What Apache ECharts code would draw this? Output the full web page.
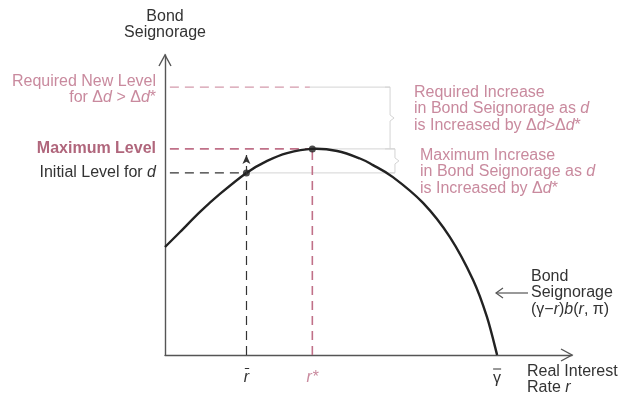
<!DOCTYPE html>
<html>
<head>
<meta charset="utf-8">
<script src="https://cdn.jsdelivr.net/npm/echarts@6/dist/echarts.min.js"></script>
<style>
  html, body { margin: 0; padding: 0; background: #fff; }
  #chart { width: 627px; height: 396px; }
</style>
</head>
<body>
<div id="chart"></div>
<script>
// curve: bond seignorage (gamma - r) b(r, pi)
const rateValues = [0, 0.37, 0.86, 1.35, 2.0, 2.51, 3.0, 3.62, 4.23, 4.79, 5.11, 5.6, 6.34, 7.0, 7.57, 7.91, 8.16]
const seignorageValues = [3.6, 4.1, 4.77, 5.37, 6.07, 6.47, 6.73, 6.87, 6.8, 6.55, 6.33, 5.93, 5.07, 3.93, 2.5, 1.27, 0]

// key points on the axes
const rBar = 2.0
const rStar = 3.62
const gammaBar = 8.16

// levels
const initialLevel = 6.07
const maxLevel = 6.87
const requiredLevel = 8.93

const pink = '#c07088'
const pinkText = '#c98a9e'
const ink = '#333'
const grey = '#d4d4d4'
const font = 'Liberation Sans, Arial, sans-serif'
const fs = 16

const chart = echarts.init(document.getElementById('chart'))

const dash = [9, 6]

const seg = (x1, y1, x2, y2, color, type, width) => ({
  type: 'line',
  data: [[x1, y1], [x2, y2]],
  symbol: 'none',
  silent: true,
  lineStyle: { color: color, type: type, width: width },
  z: 1
})

// catmull-rom through the points, drawn once with the axis scales
const renderCurve = (params, api) => {
  if (params.dataIndex !== 0) return null
  const p = rateValues.map((r, i) => api.coord([r, seignorageValues[i]]))
  let d = 'M' + p[0][0] + ' ' + p[0][1]
  for (let i = 0; i < p.length - 1; i++) {
    const p0 = p[Math.max(i - 1, 0)], p1 = p[i], p2 = p[i + 1], p3 = p[Math.min(i + 2, p.length - 1)]
    const c1x = p1[0] + (p2[0] - p0[0]) / 6, c1y = p1[1] + (p2[1] - p0[1]) / 6
    const c2x = p2[0] - (p3[0] - p1[0]) / 6, c2y = p2[1] - (p3[1] - p1[1]) / 6
    d += ' C' + c1x + ' ' + c1y + ' ' + c2x + ' ' + c2y + ' ' + p2[0] + ' ' + p2[1]
  }
  return {
    type: 'path',
    shape: { pathData: d },
    style: { stroke: '#222', lineWidth: 2.4, fill: 'none' }
  }
}

chart.setOption({
  animation: false,
  grid: { left: 165, right: 55, top: 55, bottom: 41 },
  xAxis: {
    type: 'value', min: 0, max: 10,
    axisLine: { lineStyle: { color: '#555', width: 1.4 } },
    axisTick: { show: false }, axisLabel: { show: false }, splitLine: { show: false }
  },
  yAxis: {
    type: 'value', min: 0, max: 10,
    axisLine: { show: true, lineStyle: { color: '#555', width: 1.4 } },
    axisTick: { show: false }, axisLabel: { show: false }, splitLine: { show: false }
  },
  series: [
    seg(0.12, requiredLevel, 3.56, requiredLevel, '#d49aac', dash, 1.3),
    seg(3.56, requiredLevel, 5.53, requiredLevel, grey, 'solid', 1),
    seg(0.12, maxLevel, rStar, maxLevel, pink, dash, 1.8),
    seg(rStar, maxLevel, 5.65, maxLevel, grey, 'solid', 1),
    seg(0.12, initialLevel, rBar, initialLevel, ink, dash, 1.2),
    seg(rBar, initialLevel, 5.65, initialLevel, grey, 'solid', 1),
    seg(rStar, 0, rStar, maxLevel, pink, dash, 1.6),
    {
      type: 'custom',
      data: rateValues.map((r, i) => [r, seignorageValues[i]]),
      renderItem: renderCurve,
      silent: true,
      z: 3,
      markLine: {
        silent: true,
        symbol: ['none', 'arrow'],
        symbolSize: [6, 9],
        label: { show: false },
        lineStyle: { color: ink, type: dash, width: 1.2 },
        data: [[{ coord: [rBar, 0] }, { coord: [rBar, 6.67] }]]
      }
    },
    {
      type: 'scatter',
      data: [[rBar, initialLevel], [rStar, maxLevel]],
      symbolSize: 7,
      itemStyle: { color: '#222' },
      z: 4
    }
  ]
})

const px = (x, y) => chart.convertToPixel({ gridIndex: 0 }, [x, y])
const origin = px(0, 0)
const xEnd = px(10, 0)
const yEnd = px(0, 10)

const rich = (color) => ({
  i: { fontStyle: 'italic', fill: color, fontSize: fs, fontFamily: font }
})

const text = (str, x, y, opts) => ({
  type: 'text',
  silent: true,
  style: Object.assign({
    text: str, x: x, y: y,
    fill: ink, fontSize: fs, fontFamily: font,
    textAlign: 'left', textVerticalAlign: 'top', lineHeight: 16.5,
    rich: rich((opts && opts.fill) || ink)
  }, opts || {})
})

const poly = (pts, color, width) => ({
  type: 'polyline', silent: true,
  shape: { points: pts },
  style: { stroke: color, lineWidth: width || 1.2, fill: null }
})

const brace = (x, y1, y2) => {
  const m = (y1 + y2) / 2
  return poly([[x - 5, y1], [x, y1], [x, m - 3], [x + 4, m], [x, m + 3], [x, y2], [x - 5, y2]], grey, 1)
}

const pReq = px(5.53, requiredLevel)
const pMax = px(5.65, maxLevel)
const pInit = px(5.65, initialLevel)

const tb = px(rBar, 0), ts = px(rStar, 0), tg = px(gammaBar, 0)

chart.setOption({
  graphic: [
    // axis arrow heads
    poly([[yEnd[0] - 6, yEnd[1] + 11], yEnd, [yEnd[0] + 6, yEnd[1] + 11]], '#555', 1.4),
    poly([[xEnd[0] - 11, xEnd[1] - 6], xEnd, [xEnd[0] - 11, xEnd[1] + 6]], '#555', 1.4),
    brace(pReq[0], pReq[1], pMax[1]),
    brace(pMax[0], pMax[1], pInit[1]),
    // pointer to curve
    poly([[496, 293], [528, 293]], '#555', 1.2),
    poly([[503, 288], [496, 293], [503, 298]], '#555', 1.2),

    text('Bond\nSeignorage', origin[0], 8, { textAlign: 'center' }),
    text('Required New Level\nfor Δ{i|d} > Δ{i|d}*', 156, 73, { textAlign: 'right', fill: pinkText }),
    text('Maximum Level', 156, 149, { textAlign: 'right', textVerticalAlign: 'middle', fill: '#b0667c', fontWeight: 'bold' }),
    text('Initial Level for {i|d}', 156, 173, { textAlign: 'right', textVerticalAlign: 'middle' }),
    text('Required Increase\nin Bond Seignorage as {i|d}\nis Increased by Δ{i|d}>Δ{i|d}*', 414, 84, { fill: pinkText }),
    text('Maximum Increase\nin Bond Seignorage as {i|d}\nis Increased by Δ{i|d}*', 420, 147, { fill: pinkText }),
    text('Bond\nSeignorage\n(γ−{i|r}){i|b}({i|r}, π)', 531, 268),
    text('{i|r̄}', tb[0], 369, { textAlign: 'center' }),
    text('{i|r*}', ts[0], 369, { textAlign: 'center', fill: pinkText }),
    text('γ', tg[0], 370, { textAlign: 'center' }),
    poly([[tg[0] - 4, 369], [tg[0] + 4, 369]], ink, 1),
    text('Real Interest\nRate {i|r}', 527, 363)
  ]
})
</script>
</body>
</html>
